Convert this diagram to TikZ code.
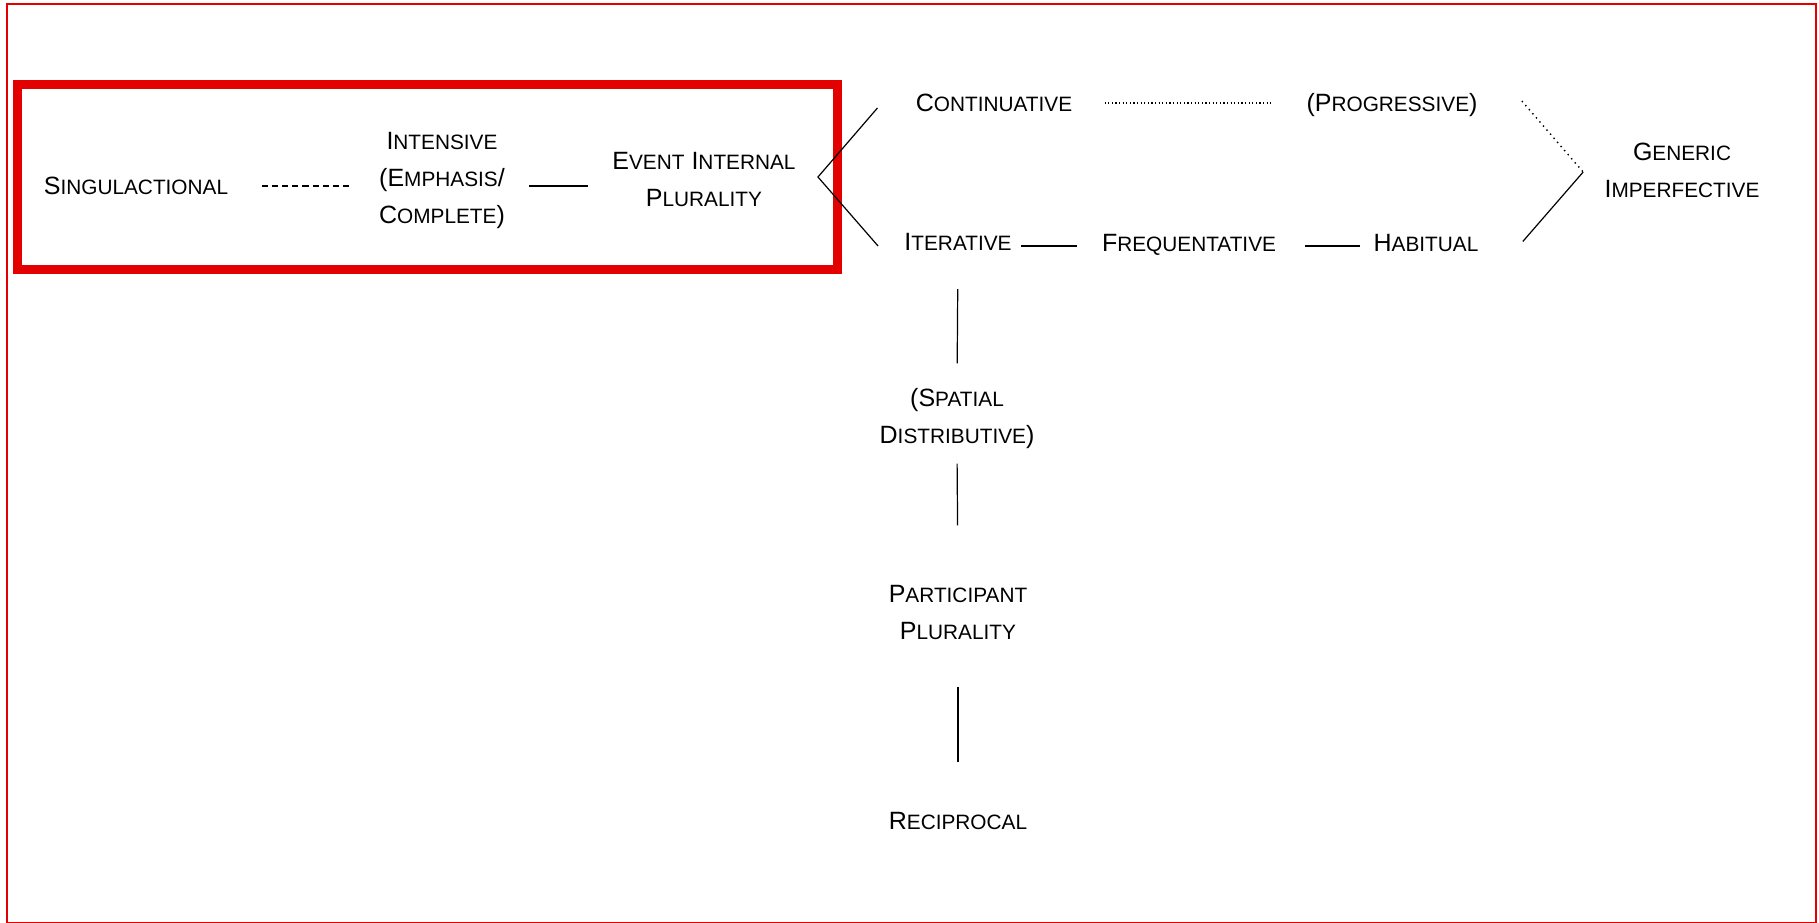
\documentclass[tikz,border=0pt]{standalone}
\usepackage{fontspec}
\setmainfont{Liberation Sans}
\usetikzlibrary{calc}
\definecolor{framered}{RGB}{226,0,0}
% small-capital tail of a term
\newcommand\sm[1]{{\fontsize{10.4pt}{18.5pt}\selectfont #1}}
\begin{document}
\begin{tikzpicture}[x=0.5pt,y=-0.5pt,
  term/.style={inner sep=0pt, align=center, font=\fontsize{12.5pt}{18.5pt}\selectfont},
  link/.style={line width=0.6pt},
  dashlink/.style={line width=1.4pt, dash pattern=on 3.1pt off 2pt},
  dotlink/.style={line width=0.6pt, dash pattern=on 0.6pt off 1.2pt},
  slantdot/.style={line width=0.7pt, dash pattern=on 0.7pt off 2pt},
]
\useasboundingbox (0,0) rectangle (1819,922);
\draw[framered, line width=1pt] (6.5,4) rectangle (1816,922.5);
\draw[framered, line width=4.5pt] (17.5,84) rectangle (837.5,269);

% terms
\node[term] (sing)  at (136,186) {S\sm{INGULACTIONAL}};
\node[term] (inten) at (442,180) {I\sm{NTENSIVE}\\(E\sm{MPHASIS}/\\C\sm{OMPLETE})};
\node[term] (eip)   at (704,179) {E\sm{VENT} I\sm{NTERNAL}\\P\sm{LURALITY}};
\node[term] (cont)  at (994,103) {C\sm{ONTINUATIVE}};
\node[term] (prog)  at (1392,105) {(P\sm{ROGRESSIVE})};
\node[term] (gen)   at (1682,170) {G\sm{ENERIC}\\I\sm{MPERFECTIVE}};
\node[term] (iter)  at (958,242) {I\sm{TERATIVE}};
\node[term] (freq)  at (1189,244.5) {F\sm{REQUENTATIVE}};
\node[term] (hab)   at (1426,242.5) {H\sm{ABITUAL}};
\node[term] (spat)  at (957,419) {(S\sm{PATIAL}\\D\sm{ISTRIBUTIVE})};
\node[term] (part)  at (958,612) {P\sm{ARTICIPANT}\\P\sm{LURALITY}};
\node[term] (recip) at (958,821) {R\sm{ECIPROCAL}};

% connectors
\draw[dashlink, shorten <=16.5pt, shorten >=13pt] (sing.east) -- (sing.east -| inten.west);
\draw[link, shorten <=12pt, shorten >=12pt] (inten.east |- sing.east) -- (sing.east -| eip.west);
\draw[link] ($(cont.west)+(-38,5)$) -- ($(eip.east)+(22,-2)$) -- ($(iter.west)+(-26,4)$);
\draw[dotlink, shorten <=16pt, shorten >=17.5pt] (cont.east) -- (cont.east -| prog.west);
\draw[slantdot] ($(prog.east)+(44,-4)$) -- ($(gen.west)+(-21,2)$);
\draw[link] ($(hab.east)+(44,-1)$) -- ($(gen.west)+(-21,2)$);
\draw[link, shorten <=4.5pt, shorten >=12.5pt] ($(iter.east)+(0,4)$) -- ($(iter.east -| freq.west)+(0,4)$);
\draw[link, shorten <=14.5pt, shorten >=6.5pt] ($(freq.east |- hab.east)+(0,3.5)$) -- ($(hab.west)+(0,3.5)$);
\draw[link, shorten <=19pt, shorten >=12.5pt] (iter.south) -- (spat.north);
\draw[link, shorten <=7pt, shorten >=29.5pt] (spat.south) -- (part.north);
\draw[link, shorten <=23.5pt, shorten >=25pt] (part.south) -- (recip.north);
\end{tikzpicture}
\end{document}
